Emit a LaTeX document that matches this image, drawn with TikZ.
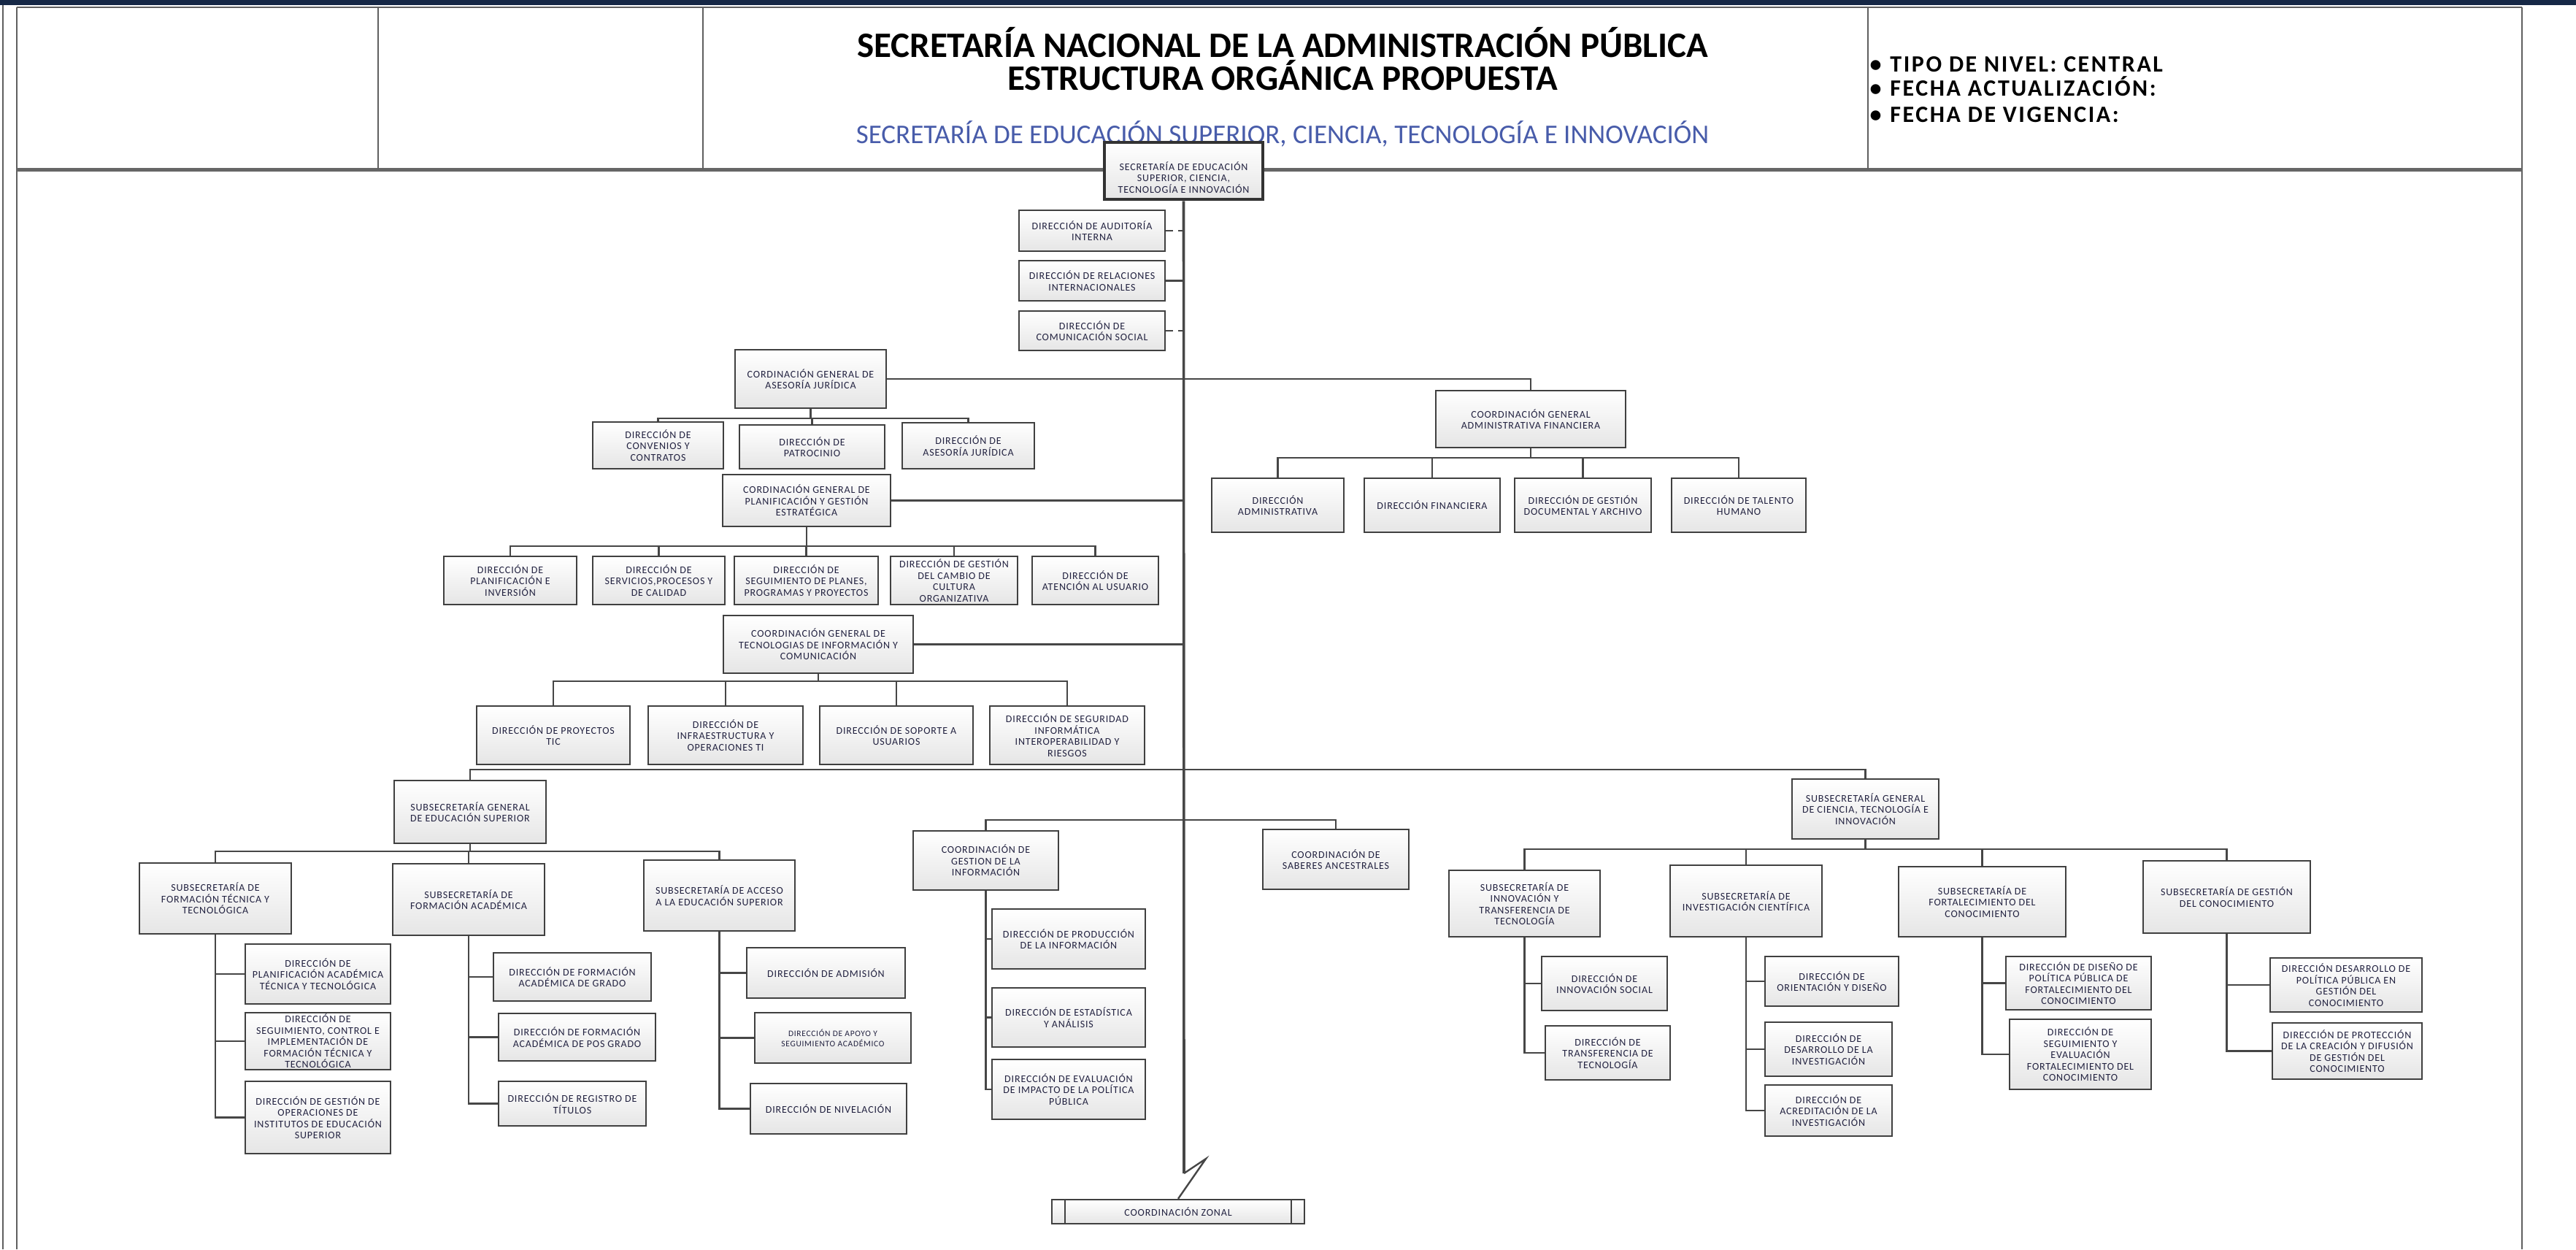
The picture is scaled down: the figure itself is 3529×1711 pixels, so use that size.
\documentclass[tikz,border=0pt]{standalone}
\usepackage{fontspec}
\setmainfont{Carlito}
\newfontfamily\boxfont{Carlito}[LetterSpace=6]
\newfontfamily\headfont{Carlito}[LetterSpace=8]

\definecolor{navy}{RGB}{22,40,70}
\definecolor{framegray}{RGB}{95,95,95}
\definecolor{boxtext}{RGB}{35,35,65}
\definecolor{subblue}{RGB}{72,92,170}
\definecolor{linkgray}{RGB}{70,70,70}

\begin{document}
\begin{tikzpicture}[x=1pt, y=-1pt,
    unit/.style={draw=black!75, line width=2.4pt, top color=white, bottom color=black!10,
      align=center, inner sep=0.5pt, text=boxtext, font=\boxfont\fontsize{14}{15.5}\selectfont},
    wh/.style 2 args={minimum width=#1, minimum height=#2},
    frame line/.style={draw=framegray, line width=2pt},
    spine/.style={draw=linkgray, line width=3.6pt},
    every edge/.style={draw=linkgray, line width=2.4pt},
    staff link/.style={dash pattern=on 10pt off 7pt},
    bus/.style={to path={-- ++(0,#1) -| (\tikztotarget)}},
    elbow/.style={to path={|- (\tikztotarget)}}]

  \useasboundingbox (0,0) rectangle (3529,1711);

  % page frame and header
  \fill[navy] (0,0) rectangle (3529,7);
  \draw[frame line] (4,7) -- (4,1711);
  \draw[frame line] (23,10) -- (23,1711);
  \draw[frame line] (3455,10) -- (3455,1711);
  \draw[frame line] (23,10) -- (3455,10);
  \draw[draw=black!60, line width=5pt] (23,232) -- (3455,232);
  \draw[frame line] (518,10) -- (518,232);
  \draw[frame line] (963,10) -- (963,232);
  \draw[frame line] (2559,10) -- (2559,232);

  \node[anchor=base, font=\bfseries\fontsize{49}{58}\selectfont] (t1) at (1757,78)
    {SECRETARÍA NACIONAL DE LA ADMINISTRACIÓN PÚBLICA};
  \node[anchor=base, font=\bfseries\fontsize{49}{58}\selectfont] (t2) at (1757,123)
    {ESTRUCTURA ORGÁNICA PROPUESTA};
  \node[anchor=base, text=subblue, font=\fontsize{37}{44}\selectfont] (t3) at (1757,196)
    {SECRETARÍA DE EDUCACIÓN SUPERIOR, CIENCIA, TECNOLOGÍA E INNOVACIÓN};

  \node[anchor=base west, font=\headfont\bfseries\fontsize{32}{38}\selectfont] (n1) at (2558,98)
    {\textbullet\hspace{12pt}TIPO DE NIVEL: CENTRAL};
  \node[anchor=base west, font=\headfont\bfseries\fontsize{32}{38}\selectfont] (n2) at (2558,131)
    {\textbullet\hspace{12pt}FECHA ACTUALIZACIÓN:};
  \node[anchor=base west, font=\headfont\bfseries\fontsize{32}{38}\selectfont] (n3) at (2558,167)
    {\textbullet\hspace{12pt}FECHA DE VIGENCIA:};

  % top of the structure
  \node[unit, wh={217}{78}, line width=4.5pt, draw=black!80] (sec) at (1621.5,234)
    {\rule{0pt}{14pt}\\SECRETARÍA DE EDUCACIÓN\\SUPERIOR, CIENCIA,\\TECNOLOGÍA E INNOVACIÓN};
  \coordinate (sp) at (1622,0);

  \node[unit, wh={200}{56}] (aud) at (1496,316) {DIRECCIÓN DE AUDITORÍA\\INTERNA};
  \node[unit, wh={200}{55}] (rel) at (1496,384.5) {DIRECCIÓN DE RELACIONES\\INTERNACIONALES};
  \node[unit, wh={200}{54}] (com) at (1496,453) {DIRECCIÓN DE\\COMUNICACIÓN SOCIAL};

  % asesoria juridica
  \node[unit, wh={207}{80}] (cgaj) at (1110.5,519) {CORDINACIÓN GENERAL DE\\ASESORÍA JURÍDICA};
  \node[unit, wh={179}{64}] (conv) at (901.5,610) {DIRECCIÓN DE\\CONVENIOS Y\\CONTRATOS};
  \node[unit, wh={199}{60}] (patr) at (1112.5,612) {DIRECCIÓN DE\\PATROCINIO};
  \node[unit, wh={181}{63}] (asej) at (1326.5,610.5) {DIRECCIÓN DE\\ASESORÍA JURÍDICA};

  % administrativa financiera
  \node[unit, wh={260}{78}] (cgaf) at (2097,574) {COORDINACIÓN GENERAL\\ADMINISTRATIVA FINANCIERA};
  \node[unit, wh={181}{74}] (dadm) at (1750.5,692) {DIRECCIÓN\\ADMINISTRATIVA};
  \node[unit, wh={186}{74}] (dfin) at (1962,692) {DIRECCIÓN FINANCIERA};
  \node[unit, wh={187}{74}] (ddoc) at (2168.5,692) {DIRECCIÓN DE GESTIÓN\\DOCUMENTAL Y ARCHIVO};
  \node[unit, wh={184}{74}] (dtal) at (2382,692) {DIRECCIÓN DE TALENTO\\HUMANO};

  % planificacion
  \node[unit, wh={230}{71}] (cgpe) at (1105,685.5)
    {CORDINACIÓN GENERAL DE\\PLANIFICACIÓN Y GESTIÓN\\ESTRATÉGICA};
  \node[unit, wh={182}{66}] (dpla) at (699,795) {DIRECCIÓN  DE\\PLANIFICACIÓN E\\INVERSIÓN};
  \node[unit, wh={181}{66}] (dser) at (902.5,795) {DIRECCIÓN DE\\SERVICIOS,PROCESOS Y\\DE CALIDAD};
  \node[unit, wh={197}{66}] (dseg) at (1104.5,795)
    {DIRECCIÓN DE\\SEGUIMIENTO DE PLANES,\\PROGRAMAS Y PROYECTOS};
  \node[unit, wh={174}{66}] (dcam) at (1307,795)
    {DIRECCIÓN DE GESTIÓN\\DEL CAMBIO DE\\CULTURA\\ORGANIZATIVA};
  \node[unit, wh={173}{66}] (datu) at (1500.5,795) {DIRECCIÓN DE\\ATENCIÓN AL USUARIO};

  % tecnologias
  \node[unit, wh={260}{79}] (cgti) at (1121,882.5)
    {COORDINACIÓN GENERAL DE\\TECNOLOGIAS DE INFORMACIÓN Y\\COMUNICACIÓN};
  \node[unit, wh={210}{80}] (dpti) at (758,1007) {DIRECCIÓN DE PROYECTOS\\TIC};
  \node[unit, wh={212}{80}] (dinf) at (994,1007) {DIRECCIÓN DE\\INFRAESTRUCTURA Y\\OPERACIONES TI};
  \node[unit, wh={210}{80}] (dsop) at (1228,1007) {DIRECCIÓN DE SOPORTE A\\USUARIOS};
  \node[unit, wh={212}{80}] (dsin) at (1462,1007)
    {DIRECCIÓN DE SEGURIDAD\\INFORMÁTICA\\INTEROPERABILIDAD Y\\RIESGOS};

  % educacion superior
  \node[unit, wh={208}{86}] (sges) at (644,1112) {SUBSECRETARÍA GENERAL\\DE EDUCACIÓN SUPERIOR};
  \node[unit, wh={208}{97}] (sftt) at (295,1230.5) {SUBSECRETARÍA DE\\FORMACIÓN TÉCNICA Y\\TECNOLÓGICA};
  \node[unit, wh={208}{98}] (sfac) at (642,1232) {SUBSECRETARÍA DE\\FORMACIÓN ACADÉMICA};
  \node[unit, wh={207}{97}] (sace) at (985.5,1226.5) {SUBSECRETARÍA DE  ACCESO\\A LA EDUCACIÓN SUPERIOR};

  \node[unit, wh={199}{82}] (dpat) at (435.5,1334)
    {DIRECCIÓN DE\\PLANIFICACIÓN ACADÉMICA\\TÉCNICA Y TECNOLÓGICA};
  \node[unit, wh={199}{78}] (dsci) at (435.5,1426)
    {DIRECCIÓN DE\\SEGUIMIENTO, CONTROL E\\IMPLEMENTACIÓN DE\\FORMACIÓN TÉCNICA Y\\TECNOLÓGICA};
  \node[unit, wh={199}{99}] (dgoi) at (435.5,1530.5)
    {DIRECCIÓN DE  GESTIÓN DE\\OPERACIONES DE\\INSTITUTOS DE EDUCACIÓN\\SUPERIOR};

  \node[unit, wh={216}{66}] (dfag) at (784,1338) {DIRECCIÓN DE FORMACIÓN\\ACADÉMICA DE GRADO};
  \node[unit, wh={215}{65}] (dfpg) at (790.5,1420.5) {DIRECCIÓN DE FORMACIÓN\\ACADÉMICA DE POS GRADO};
  \node[unit, wh={202}{61}] (drti) at (784,1511.5) {DIRECCIÓN DE  REGISTRO DE\\TÍTULOS};

  \node[unit, wh={217}{69}] (dadi) at (1131.5,1332.5) {DIRECCIÓN  DE ADMISIÓN};
  \node[unit, wh={214}{69}, font=\boxfont\fontsize{11.5}{13.5}\selectfont] (dapo) at (1141,1421.5)
    {DIRECCIÓN DE APOYO Y\\SEGUIMIENTO ACADÉMICO};
  \node[unit, wh={214}{69}] (dniv) at (1135,1518.5) {DIRECCIÓN DE NIVELACIÓN};

  % informacion y saberes
  \node[unit, wh={199}{81}] (cgin) at (1350.5,1178.5) {COORDINACIÓN DE\\GESTION DE LA\\INFORMACIÓN};
  \node[unit, wh={200}{82}] (csab) at (1830,1177) {COORDINACIÓN  DE\\SABERES ANCESTRALES};
  \node[unit, wh={210}{82}] (dpro) at (1464,1286) {DIRECCIÓN DE PRODUCCIÓN\\DE LA INFORMACIÓN};
  \node[unit, wh={210}{81}] (dest) at (1464,1393.5) {DIRECCIÓN DE ESTADÍSTICA\\Y ANÁLISIS};
  \node[unit, wh={210}{82}] (deva) at (1464,1492)
    {DIRECCIÓN DE EVALUACIÓN\\DE IMPACTO DE LA POLÍTICA\\PÚBLICA};

  % ciencia y tecnologia
  \node[unit, wh={201}{82}] (sgct) at (2555.5,1108)
    {SUBSECRETARÍA GENERAL\\DE CIENCIA, TECNOLOGÍA E\\INNOVACIÓN};
  \node[unit, wh={207}{91}] (sitt) at (2088.5,1237.5)
    {SUBSECRETARÍA DE\\INNOVACIÓN Y\\TRANSFERENCIA DE\\TECNOLOGÍA};
  \node[unit, wh={208}{98}] (sinc) at (2392,1234) {SUBSECRETARÍA DE\\INVESTIGACIÓN CIENTÍFICA};
  \node[unit, wh={229}{96}] (sfco) at (2715.5,1235)
    {SUBSECRETARÍA DE\\FORTALECIMIENTO DEL\\CONOCIMIENTO};
  \node[unit, wh={229}{99}] (sgco) at (3050.5,1228.5) {SUBSECRETARÍA DE GESTIÓN\\DEL CONOCIMIENTO};

  \node[unit, wh={172}{74}] (dins) at (2198,1347) {DIRECCIÓN DE\\INNOVACIÓN SOCIAL};
  \node[unit, wh={171}{74}] (dtra) at (2202.5,1442) {DIRECCIÓN DE\\TRANSFERENCIA DE\\TECNOLOGÍA};

  \node[unit, wh={183}{68}] (dori) at (2509.5,1344) {DIRECCIÓN DE\\ORIENTACIÓN Y DISEÑO};
  \node[unit, wh={174}{74}] (ddes) at (2505,1437) {DIRECCIÓN DE\\DESARROLLO DE LA\\INVESTIGACIÓN};
  \node[unit, wh={174}{70}] (dacr) at (2505,1521) {DIRECCIÓN DE\\ACREDITACIÓN DE LA\\INVESTIGACIÓN};

  \node[unit, wh={199}{73}] (ddpf) at (2847.5,1346.5)
    {DIRECCIÓN DE DISEÑO DE\\POLÍTICA PÚBLICA DE\\FORTALECIMIENTO DEL\\CONOCIMIENTO};
  \node[unit, wh={194}{96}] (dsef) at (2850,1444)
    {DIRECCIÓN DE\\SEGUIMIENTO Y\\EVALUACIÓN\\FORTALECIMIENTO DEL\\CONOCIMIENTO};

  \node[unit, wh={208}{74}] (ddpg) at (3214,1349)
    {DIRECCIÓN DESARROLLO DE\\POLÍTICA PÚBLICA EN\\GESTIÓN DEL\\CONOCIMIENTO};
  \node[unit, wh={205}{77}] (dpcd) at (3215.5,1439.5)
    {DIRECCIÓN DE PROTECCIÓN\\DE LA CREACIÓN Y DIFUSIÓN\\DE GESTIÓN DEL\\CONOCIMIENTO};

  % zonal
  \node[unit, wh={346}{33}] (czon) at (1614,1659.5) {COORDINACIÓN ZONAL};
  \draw[draw=black!75, line width=2.4pt] ([xshift=19pt]czon.north west) -- ([xshift=19pt]czon.south west)
    ([xshift=-19pt]czon.north east) -- ([xshift=-19pt]czon.south east);

  % connectors
  \draw[spine] (sec.south) -- (1622,1607);
  \draw[draw=linkgray, line width=2.4pt] (1622,1607) -- (1652,1587) -- (czon.north);

  \path (aud.east) edge[staff link] (aud.east -| sp)
        (rel.east) edge (rel.east -| sp)
        (com.east) edge[staff link] (com.east -| sp)
        (cgaj.east) edge[to path={-| (\tikztotarget)}] (cgaf.north)
        (cgpe.east) edge (cgpe.east -| sp)
        (cgti.east) edge (cgti.east -| sp)
        (sges.north) edge[to path={|- (sp |- 0,1054) -| (\tikztotarget)}] (sgct.north)
        (cgin.north) edge[to path={|- (sp |- 0,1123) -| (\tikztotarget)}] (csab.north);

  \path (cgaj.south) edge[bus=13] (conv.north)
        (cgaj.south) edge[bus=13] (patr.north)
        (cgaj.south) edge[bus=13] (asej.north)
        (cgaf.south) edge[bus=13] (dadm.north)
        (cgaf.south) edge[bus=13] (dfin.north)
        (cgaf.south) edge[bus=13] (ddoc.north)
        (cgaf.south) edge[bus=13] (dtal.north)
        (cgpe.south) edge[bus=26] (dpla.north)
        (cgpe.south) edge[bus=26] (dser.north)
        (cgpe.south) edge[bus=26] (dseg.north)
        (cgpe.south) edge[bus=26] (dcam.north)
        (cgpe.south) edge[bus=26] (datu.north)
        (cgti.south) edge[bus=10] (dpti.north)
        (cgti.south) edge[bus=10] (dinf.north)
        (cgti.south) edge[bus=10] (dsop.north)
        (cgti.south) edge[bus=10] (dsin.north)
        (sges.south) edge[bus=10] (sftt.north)
        (sges.south) edge[bus=10] (sfac.north)
        (sges.south) edge[bus=10] (sace.north)
        (sgct.south) edge[bus=13] (sitt.north)
        (sgct.south) edge[bus=13] (sinc.north)
        (sgct.south) edge[bus=13] (sfco.north)
        (sgct.south) edge[bus=13] (sgco.north);

  \path (sftt.south) edge[elbow] (dpat.west)
        (sftt.south) edge[elbow] (dsci.west)
        (sftt.south) edge[elbow] (dgoi.west)
        (sfac.south) edge[elbow] (dfag.west)
        (sfac.south) edge[elbow] (dfpg.west)
        (sfac.south) edge[elbow] (drti.west)
        (sace.south) edge[elbow] (dadi.west)
        (sace.south) edge[elbow] (dapo.west)
        (sace.south) edge[elbow] (dniv.west)
        (cgin.south) edge[elbow] (dpro.west)
        (cgin.south) edge[elbow] (dest.west)
        (cgin.south) edge[elbow] (deva.west)
        (sitt.south) edge[elbow] (dins.west)
        (sitt.south) edge[elbow] (dtra.west)
        (sinc.south) edge[elbow] (dori.west)
        (sinc.south) edge[elbow] (ddes.west)
        (sinc.south) edge[elbow] (dacr.west)
        (sfco.south) edge[elbow] (ddpf.west)
        (sfco.south) edge[elbow] (dsef.west)
        (sgco.south) edge[elbow] (ddpg.west)
        (sgco.south) edge[elbow] (dpcd.west);

\end{tikzpicture}
\end{document}
